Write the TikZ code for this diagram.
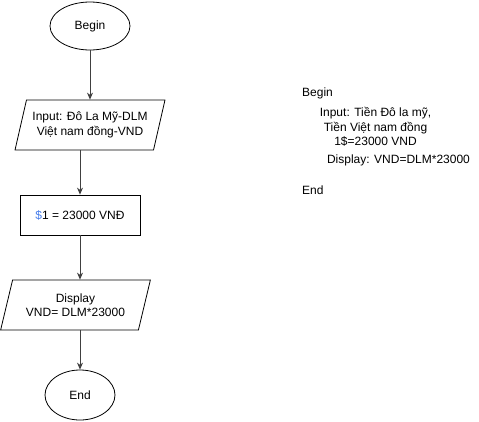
\documentclass[tikz,border=0pt]{standalone}
\usepackage{fontspec}
\setmainfont{Liberation Sans}
\usetikzlibrary{shapes.geometric,arrows.meta}
\definecolor{dollarblue}{RGB}{70,125,235}
\tikzset{
	term/.style={draw, ellipse, line width=0.8pt, inner sep=0pt},
	iobox/.style={draw, trapezium, trapezium left angle=68, trapezium right angle=112, trapezium stretches=true, line width=0.8pt, inner sep=0pt, align=center, minimum width=150, minimum height=50},
	procbox/.style={draw, rectangle, line width=0.8pt, minimum width=120, minimum height=40},
	flow/.style={line width=0.8pt, color=black!75, -{Stealth[length=7pt, width=6pt]}},
	note/.style={inner sep=0pt, align=center}
}

\begin{document}
\begin{tikzpicture}[x=1pt, y=-1pt, font=\fontsize{12}{14.5}\selectfont]
			%%%%% START %%%%%
			
			\useasboundingbox (0, 0) rectangle (479, 421);
			
			\node[term, minimum width=80, minimum height=48] (start) at (90, 26) {Begin};
			\node[iobox] (input) at (90, 125) {Input: Đô La Mỹ-DLM\\Việt nam đồng-VND};
			\node[procbox] (rate) at (80, 215) {\textcolor{dollarblue}{\$}1 = 23000 VNĐ};
			\node[iobox] (display) at (75.5, 305) {Display\\VND= DLM*23000};
			\node[term, minimum width=70, minimum height=50] (stop) at (80, 395) {End};
			
			\draw[flow] (start) -- (input);
			\draw[flow] (rate.north |- input.south) -- (rate);
			\draw[flow] (rate) -- (rate.south |- display.north);
			\draw[flow] (stop.north |- display.south) -- (stop);
			
			\node[note, anchor=west] (pbegin) at (302, 93) {Begin};
			\node[note] (pinput) at (375.5, 127) {Input: Tiền Đô la mỹ,\\Tiền Việt nam đồng\\1\$=23000 VND};
			\node[note] (pdisplay) at (398.5, 160) {Display: VND=DLM*23000};
			\node[note, anchor=west] (pend) at (302, 190) {End};
			
			%%%%% END %%%%%
		\end{tikzpicture}
\end{document}
